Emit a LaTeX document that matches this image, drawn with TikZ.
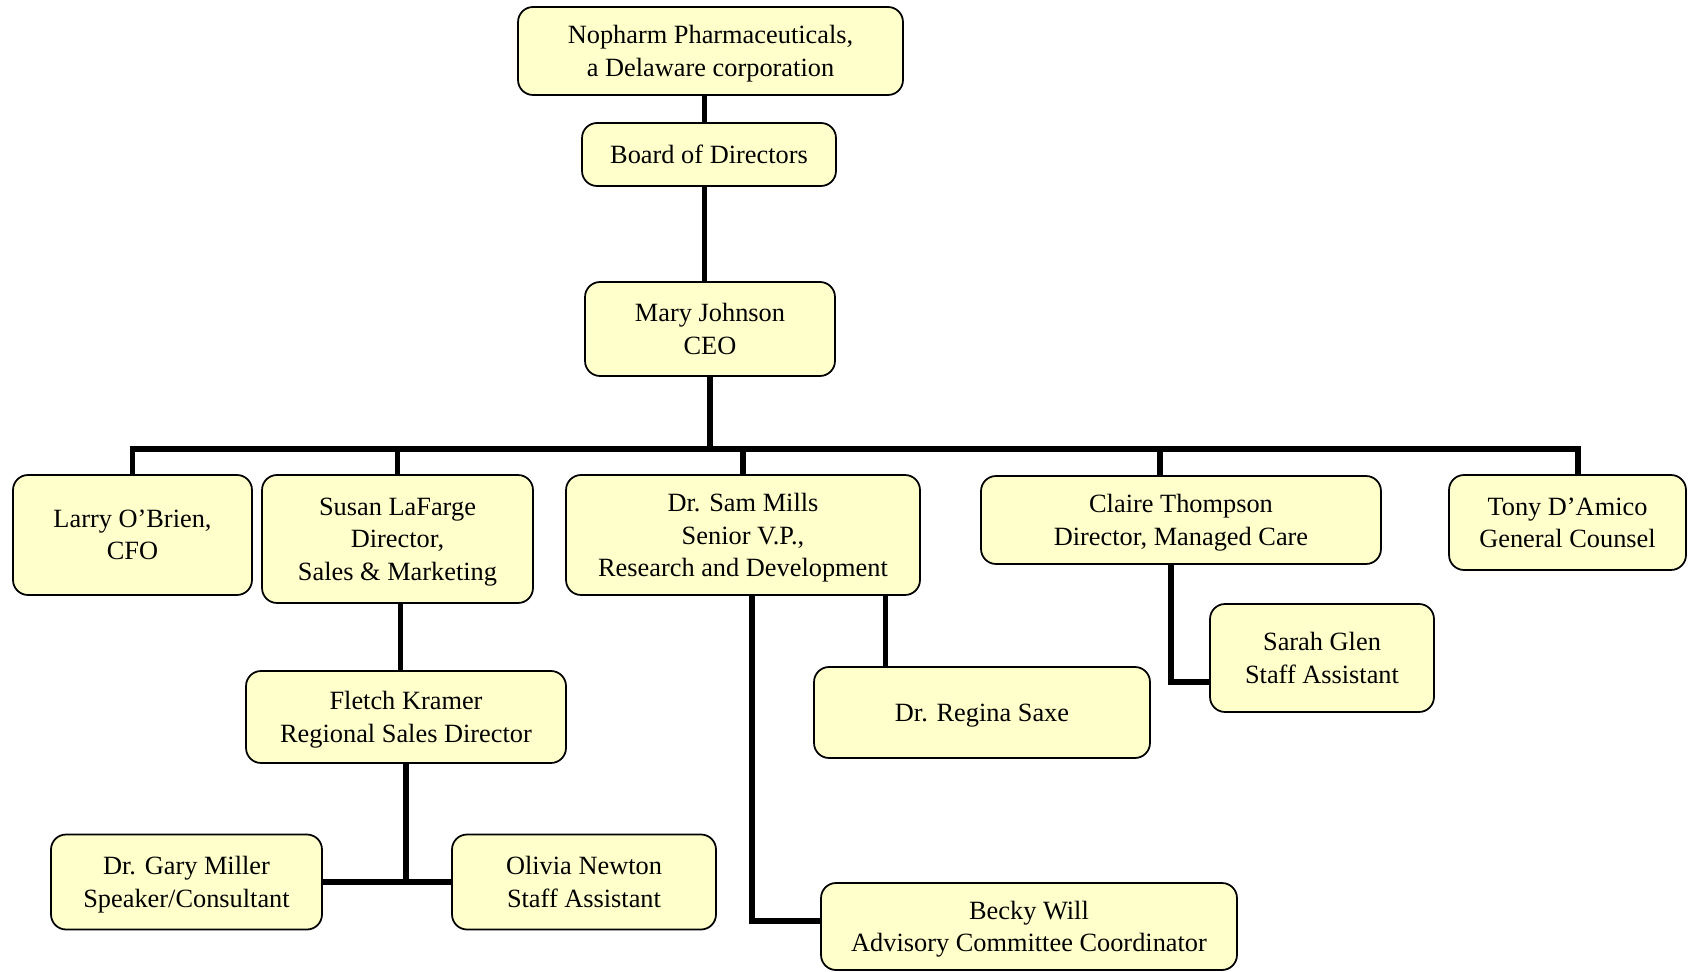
\documentclass[tikz,border=0pt]{standalone}
\usepackage{fontspec}
\setmainfont{Liberation Serif}
\usepackage{tikz}
\usetikzlibrary{calc}
\definecolor{boxfill}{HTML}{FFFFCC}

\begin{document}
\begin{tikzpicture}[
        x=0.02cm, y=-0.02cm,
        every node/.style={font=\fontsize{15}{18.4}\selectfont},
        box/.style={draw, line width=1pt, rounded corners=0.3cm, align=center,
                    inner sep=2pt, text depth=0pt, fill=boxfill},
        link/.style={line width=3.2pt}]

      \useasboundingbox (0,0) rectangle (1689,972);

      \node[box, minimum width=7.70cm, minimum height=1.76cm] (top) at (710.5,51) {Nopharm Pharmaceuticals,\\a Delaware corporation};
      \node[box, minimum width=5.08cm, minimum height=1.26cm] (board) at (709,154.5) {Board of Directors};
      \node[box, minimum width=5.00cm, minimum height=1.88cm] (ceo) at (710,329) {Mary Johnson\\CEO};

      \node[box, minimum width=4.78cm, minimum height=2.40cm] (cfo) at (132.5,535) {Larry O’Brien,\\CFO};
      \node[box, minimum width=5.42cm, minimum height=2.56cm] (sales) at (397.5,539) {Susan LaFarge\\Director,\\Sales \& Marketing};
      \node[box, minimum width=7.08cm, minimum height=2.40cm] (rnd) at (743,535) {Dr. Sam Mills\\Senior V.P.,\\Research and Development};
      \node[box, minimum width=8.00cm, minimum height=1.76cm] (care) at (1181,520) {Claire Thompson\\Director, Managed Care};
      \node[box, minimum width=4.74cm, minimum height=1.90cm] (counsel) at (1567.5,522.5) {Tony D’Amico\\General Counsel};

      \node[box, minimum width=4.48cm, minimum height=2.16cm] (sarah) at (1322,658) {Sarah Glen\\Staff Assistant};
      \node[box, minimum width=6.40cm, minimum height=1.84cm] (fletch) at (406,717) {Fletch Kramer\\Regional Sales Director};
      \node[box, minimum width=6.72cm, minimum height=1.82cm] (regina) at (982,712.5) {Dr. Regina Saxe};
      \node[box, minimum width=5.42cm, minimum height=1.90cm] (gary) at (186.5,882) {Dr. Gary Miller\\Speaker/Consultant};
      \node[box, minimum width=5.28cm, minimum height=1.90cm] (olivia) at (584,882) {Olivia Newton\\Staff Assistant};
      \node[box, minimum width=8.32cm, minimum height=1.74cm] (becky) at (1029,926.5) {Becky Will\\Advisory Committee Coordinator};

      \coordinate (bus) at (710,449);
      \coordinate (topfoot) at ($(top.south)+(-6,0)$);
      \coordinate (boardfoot) at ($(board.south)+(-4.5,0)$);
      \coordinate (carefoot) at ($(care.north)+(-21,0)$);
      \coordinate (salesfoot) at ($(sales.south)+(3,0)$);
      \coordinate (rndfoot) at ($(rnd.south)+(142.5,0)$);

      % top of the chart
      \draw[link] (topfoot) -- (topfoot |- board.north);
      \draw[link] (boardfoot) -- (boardfoot |- ceo.north);
      \draw[link] (ceo.south) -- (bus);

      % officers
      \draw[link] (cfo.north) |- (bus) -| ($(counsel.north)+(10.5,0)$);
      \draw[link] (sales.north) -- (sales.north |- bus);
      \draw[link] (rnd.north) -- (rnd.north |- bus);
      \draw[link] (carefoot) -- (carefoot |- bus);

      % staff
      \draw[link] (salesfoot) -- (salesfoot |- fletch.north);
      \draw[link] (fletch.south) -- (fletch.south |- gary.east);
      \draw[link] (gary.east) -- (olivia.west);
      \draw[link] (rndfoot) -- (rndfoot |- regina.north);
      \draw[link] ($(rnd.south)+(9,0)$) |- ($(becky.west)+(0,-5.5)$);
      \draw[link] ($(care.south)+(-10,0)$) |- ($(sarah.west)+(0,24)$);
    \end{tikzpicture}
\end{document}
